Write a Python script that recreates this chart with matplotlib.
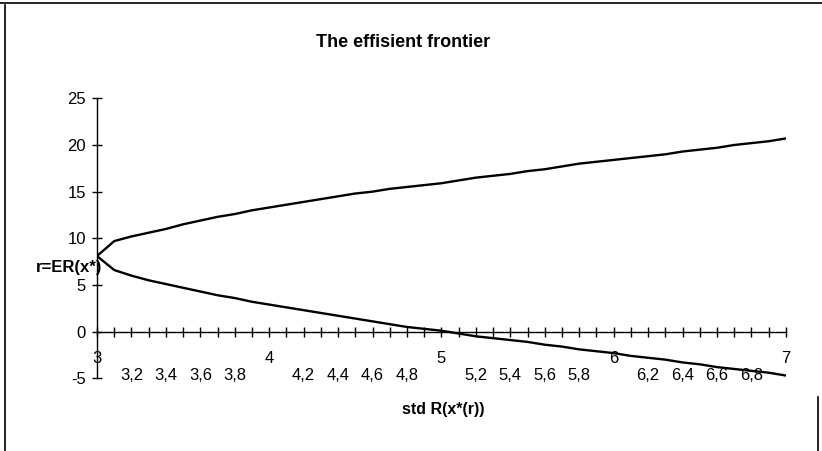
import numpy as np
import matplotlib.pyplot as plt
from matplotlib.lines import Line2D

plt.rcParams['font.family'] = ['Liberation Sans', 'DejaVu Sans']

# std R(x*(r)) categories, step 0.1
std_values = [3.0, 3.1, 3.2, 3.3, 3.4, 3.5, 3.6, 3.7, 3.8, 3.9,
              4.0, 4.1, 4.2, 4.3, 4.4, 4.5, 4.6, 4.7, 4.8, 4.9,
              5.0, 5.1, 5.2, 5.3, 5.4, 5.5, 5.6, 5.7, 5.8, 5.9,
              6.0, 6.1, 6.2, 6.3, 6.4, 6.5, 6.6, 6.7, 6.8, 6.9, 7.0]

# upper branch of the frontier
r_upper = [8.1, 9.7, 10.2, 10.6, 11.0, 11.5, 11.9, 12.3, 12.6, 13.0,
           13.3, 13.6, 13.9, 14.2, 14.5, 14.8, 15.0, 15.3, 15.5, 15.7,
           15.9, 16.2, 16.5, 16.7, 16.9, 17.2, 17.4, 17.7, 18.0, 18.2,
           18.4, 18.6, 18.8, 19.0, 19.3, 19.5, 19.7, 20.0, 20.2, 20.4, 20.7]

# lower branch
r_lower = [8.1, 6.6, 6.0, 5.5, 5.1, 4.7, 4.3, 3.9, 3.6, 3.2,
           2.9, 2.6, 2.3, 2.0, 1.7, 1.4, 1.1, 0.8, 0.5, 0.3,
           0.1, -0.2, -0.5, -0.7, -0.9, -1.1, -1.4, -1.6, -1.9, -2.1,
           -2.3, -2.6, -2.8, -3.0, -3.3, -3.5, -3.8, -4.0, -4.2, -4.4, -4.7]

y_ticks = [-5, 0, 5, 10, 15, 20, 25]

pos = np.arange(len(std_values))

fig = plt.figure(figsize=(8.22, 4.51), dpi=100)
ax = fig.add_axes([0.118, 0.1612, 0.838, 0.6208])

ax.plot(pos, r_upper, color='black', lw=1.7)
ax.plot(pos, r_lower, color='black', lw=1.7)

ax.set_xlim(0, len(std_values) - 1)
ax.set_ylim(-5, 25)

ax.spines['top'].set_visible(False)
ax.spines['right'].set_visible(False)
ax.spines['bottom'].set_position(('data', 0))
ax.spines['bottom'].set_linewidth(1.0)
ax.spines['left'].set_linewidth(1.0)

# labels every second category, whole numbers sit one line higher
labels = []
for i, v in enumerate(std_values):
    if i % 2:
        labels.append('')
    else:
        s = ('%g' % v).replace('.', ',')
        labels.append(s if v == int(v) else '\n' + s)
ax.set_xticks(pos)
ax.set_xticklabels(labels, fontsize=12, va='top', linespacing=1.15)
ax.tick_params(axis='x', direction='inout', length=7, width=1.0, pad=10.5)

ax.set_yticks(y_ticks)
ax.set_yticklabels([str(t) for t in y_ticks], fontsize=12)
ax.tick_params(axis='y', direction='inout', length=7, width=1.0, pad=4.5)

ax.set_xlabel('std R(x*(r))', fontsize=11.5, fontweight='bold')
ax.xaxis.set_label_coords(0.502, -0.113)
ax.xaxis.label.set_va('center')

ax.set_ylabel('r=ER(x*)', fontsize=12, fontweight='bold', rotation=0)
ax.yaxis.set_label_coords(-0.04, 0.394)
ax.yaxis.label.set_ha('center')
ax.yaxis.label.set_va('center')

fig.text(0.49, 0.905, 'The effisient frontier', fontsize=13,
         fontweight='bold', ha='center', va='center')

# chart area border (scan shows left, top and part of right edge)
fig.add_artist(Line2D([0.006, 0.006], [0.0, 0.99], color='black', lw=1.2))
fig.add_artist(Line2D([0.0, 1.0], [0.993, 0.993], color='black', lw=1.2))
fig.add_artist(Line2D([0.995, 0.995], [0.0, 0.12], color='black', lw=1.2))

fig.savefig('out.png', dpi=100)
